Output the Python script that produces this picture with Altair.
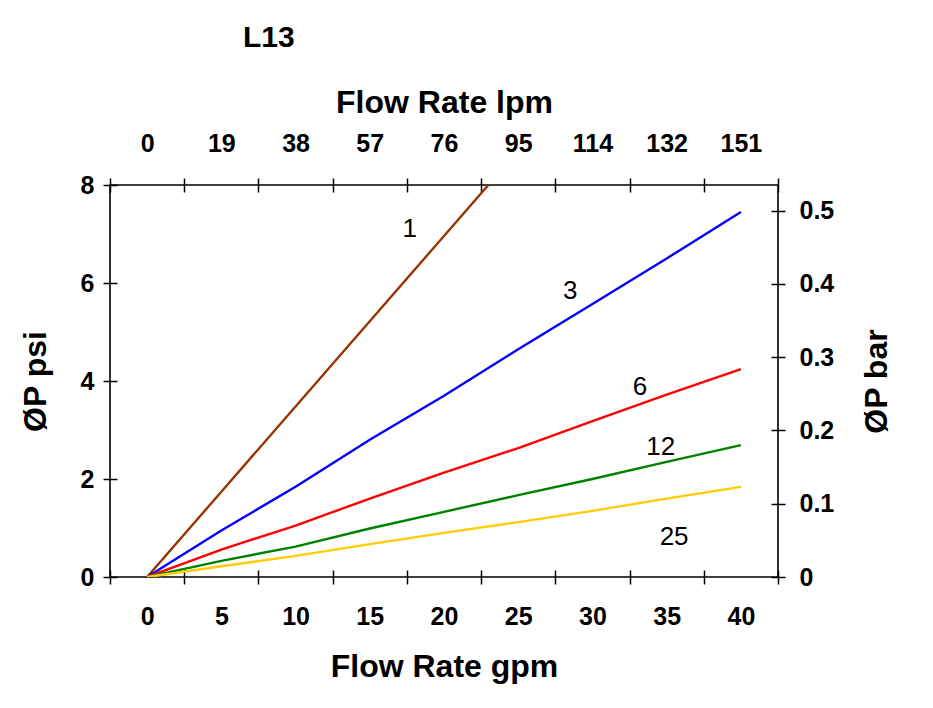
import altair as alt
import pandas as pd

FONT = "Liberation Sans"

# ---- data ----
gpm = [0, 5, 10, 15, 20, 25, 30, 35, 40]
psi_1 = [0, 1.74, 3.48, 5.22, 6.96, 8.70]
psi_3 = [0, 0.95, 1.84, 2.80, 3.70, 4.65, 5.57, 6.50, 7.45]
psi_6 = [0, 0.56, 1.05, 1.60, 2.13, 2.63, 3.18, 3.72, 4.24]
psi_12 = [0, 0.33, 0.62, 0.99, 1.33, 1.67, 2.00, 2.35, 2.69]
psi_25 = [0, 0.22, 0.43, 0.67, 0.90, 1.12, 1.35, 1.60, 1.84]

series_names = ["1", "3", "6", "12", "25"]
series_values = [psi_1, psi_3, psi_6, psi_12, psi_25]
series_colors = ["#993300", "#0000FF", "#FF0000", "#008000", "#FFCC00"]

label_gpm = [17.7, 28.5, 33.2, 34.6, 35.5]
label_psi = [7.1, 5.84, 3.88, 2.65, 0.82]

lpm_labels = ["0", "19", "38", "57", "76", "95", "114", "132", "151"]
x_minor_ticks = [-2.5, 2.5, 7.5, 12.5, 17.5, 22.5, 27.5, 32.5, 37.5, 42.5]
psi_ticks = [0, 2, 4, 6, 8]
bar_ticks = [0, 0.1, 0.2, 0.3, 0.4, 0.5]

x_domain = [-2.5, 42.5]
psi_domain = [0, 8]
bar_domain = [0, 0.535]

rows = []
for name, vals in zip(series_names, series_values):
    for g, p in zip(gpm, vals):
        rows.append({"series": name, "gpm": g, "psi": p})
df = pd.DataFrame(rows)
lab_df = pd.DataFrame({"label": series_names, "gpm": label_gpm, "psi": label_psi})
xt_df = pd.DataFrame({"v": x_minor_ticks})
xl_df = pd.DataFrame({"v": gpm})
pt_df = pd.DataFrame({"v": psi_ticks})
bt_df = pd.DataFrame({"v": bar_ticks})

xs = alt.Scale(domain=x_domain, nice=False, zero=False)
ys = alt.Scale(domain=psi_domain, nice=False)
bs = alt.Scale(domain=bar_domain, nice=False)

lpm_expr = "[" + ",".join("'" + s + "'" for s in lpm_labels) + "][indexof([" + ",".join(str(g) for g in gpm) + "], datum.value)]"

common = dict(grid=False, domain=False, labelOverlap=False, labelFlush=False, labelBound=False)

lines = alt.Chart(df).mark_line(clip=True, strokeWidth=2.4).encode(
    x=alt.X("gpm:Q", scale=xs, axis=alt.Axis(orient="bottom", values=gpm, tickSize=0, labelPadding=27,
                                             title="Flow Rate gpm", titleBaseline="middle", titleY=89,
                                             format="d", **common)),
    y=alt.Y("psi:Q", scale=ys, axis=alt.Axis(orient="left", values=psi_ticks, tickSize=0, labelPadding=16,
                                             title="ØP psi", titleBaseline="middle", titleAngle=270,
                                             titleX=-75, format="d", **common)),
    color=alt.Color("series:N", scale=alt.Scale(domain=series_names, range=series_colors), legend=None),
)

texts = alt.Chart(lab_df).mark_text(font=FONT, fontSize=26, color="black", align="center", baseline="middle").encode(
    x=alt.X("gpm:Q", scale=xs, axis=None),
    y=alt.Y("psi:Q", scale=ys, axis=None),
    text="label:N",
)

bottom_ticks = alt.Chart(xt_df).mark_point(opacity=0).encode(
    x=alt.X("v:Q", scale=xs, axis=alt.Axis(orient="bottom", values=x_minor_ticks, labels=False, tickSize=14,
                                           offset=-7, title=None, grid=False, domain=False)),
)
top_ticks = alt.Chart(xt_df).mark_point(opacity=0).encode(
    x=alt.X("v:Q", scale=xs, axis=alt.Axis(orient="top", values=x_minor_ticks, labels=False, tickSize=14,
                                           offset=-7, title=None, grid=False, domain=False)),
)
top_labels = alt.Chart(xl_df).mark_point(opacity=0).encode(
    x=alt.X("v:Q", scale=xs, axis=alt.Axis(orient="top", values=gpm, tickSize=0, labelPadding=29,
                                           labelExpr=lpm_expr, title="Flow Rate lpm", titleBaseline="middle",
                                           titleY=-83, **common)),
)
left_ticks = alt.Chart(pt_df).mark_point(opacity=0).encode(
    y=alt.Y("v:Q", scale=ys, axis=alt.Axis(orient="left", values=psi_ticks, labels=False, tickSize=14,
                                           offset=-7, title=None, grid=False, domain=False)),
)
right_labels = alt.Chart(bt_df).mark_point(opacity=0).encode(
    y=alt.Y("v:Q", scale=bs, axis=alt.Axis(orient="right", values=bar_ticks, tickSize=0, labelPadding=21,
                                           title="ØP bar", titleBaseline="middle", titleAngle=270,
                                           titleX=98, labelExpr="datum.value == 0 ? '0' : format(datum.value, '.1f')",
                                           **common)),
)
right_ticks = alt.Chart(bt_df).mark_point(opacity=0).encode(
    y=alt.Y("v:Q", scale=bs, axis=alt.Axis(orient="right", values=bar_ticks, labels=False, tickSize=14,
                                           offset=-7, title=None, grid=False, domain=False)),
)

chart = alt.layer(
    lines, texts, bottom_ticks, top_ticks, top_labels, left_ticks, right_labels, right_ticks
).resolve_scale(x="independent", y="independent").properties(
    width=668,
    height=392,
    background="white",
    autosize=alt.AutoSizeParams(type="none"),
    padding={"left": 110, "top": 185, "right": 155, "bottom": 131},
    title=alt.TitleParams(text="L13", anchor="start", frame="group", dx=133, dy=-29, fontSize=30, font=FONT,
                          fontWeight="bold", color="black"),
).configure_axis(
    labelFont=FONT, titleFont=FONT, labelFontSize=25, titleFontSize=32,
    labelFontWeight="bold", titleFontWeight="bold", labelColor="black", titleColor="black",
    tickColor="black", tickWidth=1.5, domainColor="black",
).configure_view(
    stroke="black", strokeWidth=1.6
)

chart.save("out.html", embed_options={"renderer": "svg", "actions": False})
